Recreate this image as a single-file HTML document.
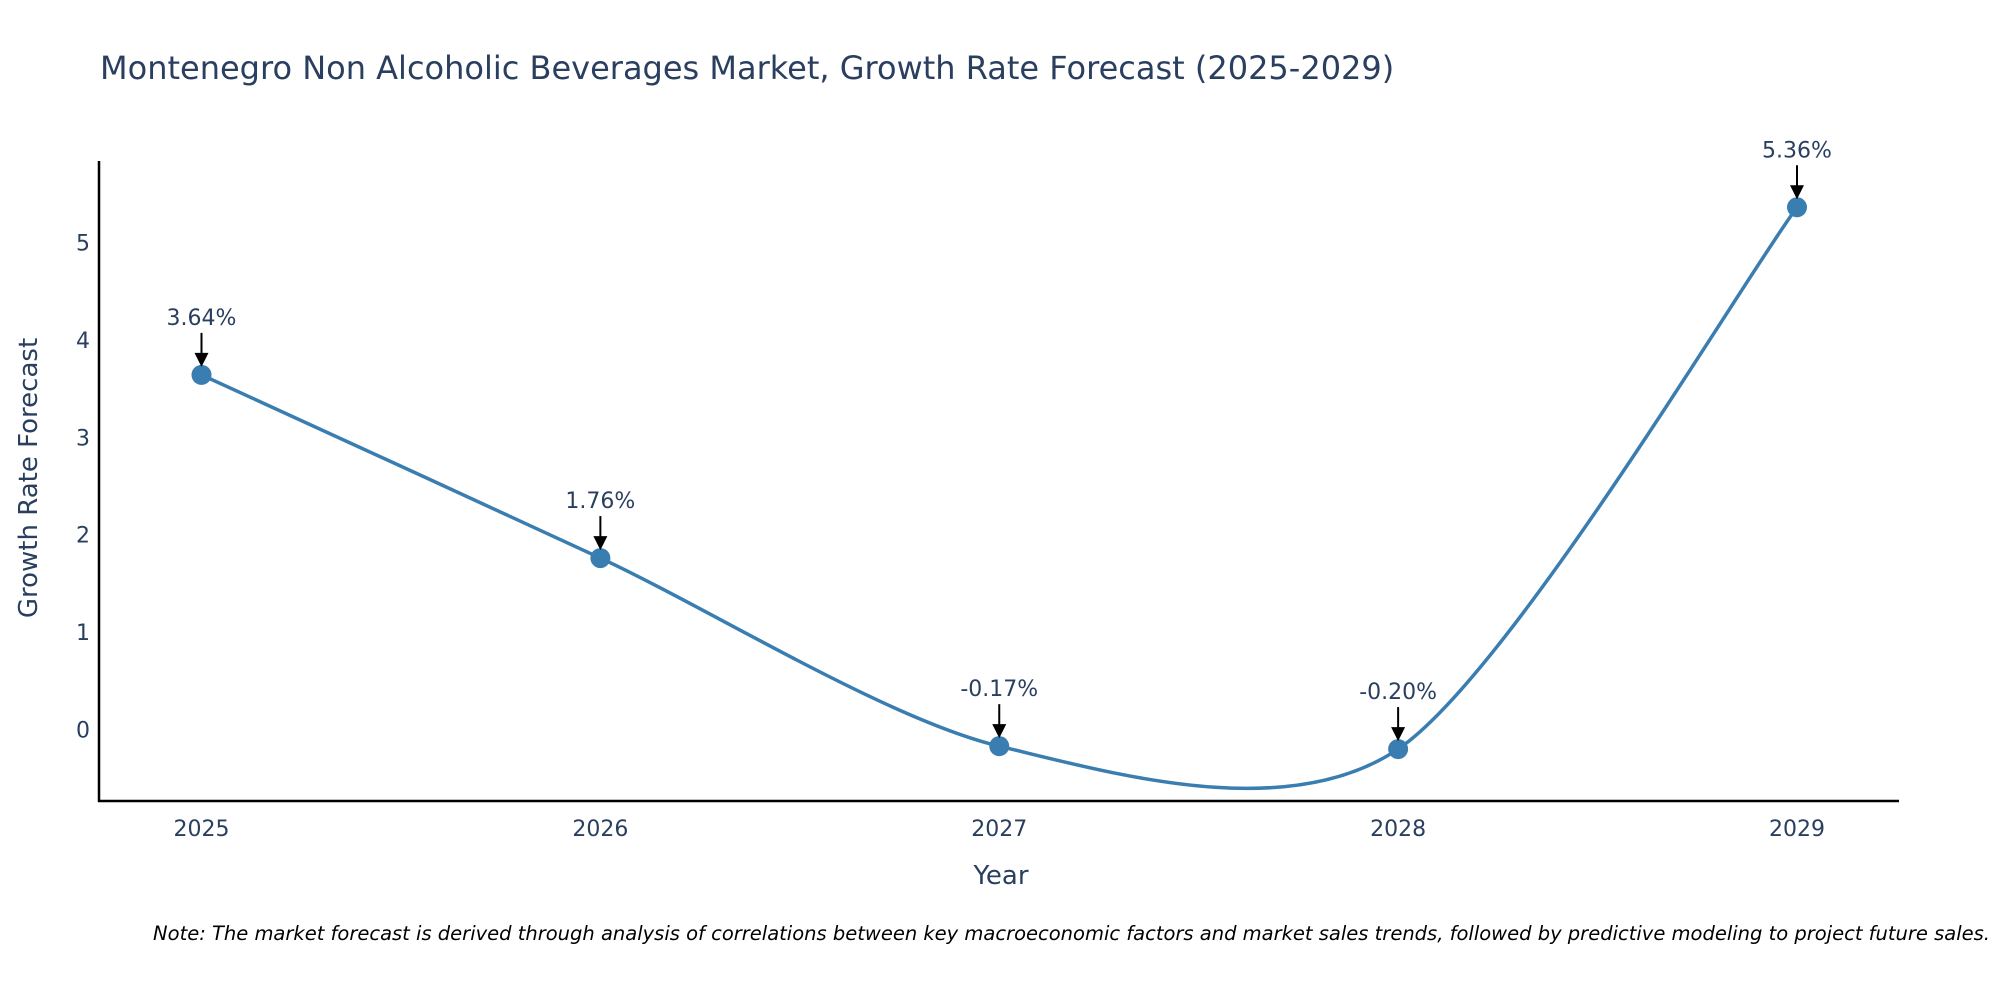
<!DOCTYPE html>
<html><head><meta charset="utf-8"><style>
body{margin:0;background:#fff;}
svg{display:block;font-family:"DejaVu Sans","Liberation Sans",sans-serif;}
</style></head><body>
<svg id="chart" width="2000" height="1000" viewBox="0 0 2000 1000">
<text x="100" y="79" font-size="32" fill="#2a3f5f">Montenegro Non Alcoholic Beverages Market, Growth Rate Forecast (2025-2029)</text>
<g id="yticks"></g>
<g id="xticks"></g>
<line x1="99" y1="161" x2="99" y2="802" stroke="#000" stroke-width="2.5"/>
<line x1="98" y1="801" x2="1899" y2="801" stroke="#000" stroke-width="2.5"/>
<g id="series"></g>
<g id="annots"></g>
<text transform="translate(37,478) rotate(-90)" text-anchor="middle" font-size="26" fill="#2a3f5f">Growth Rate Forecast</text>
<text x="1001" y="884" text-anchor="middle" font-size="26" fill="#2a3f5f">Year</text>
<text x="1990" y="940" text-anchor="end" font-size="19.5" font-style="italic" fill="#000">Note: The market forecast is derived through analysis of correlations between key macroeconomic factors and market sales trends, followed by predictive modeling to project future sales.</text>
</svg>
<script>
const years=["2025","2026","2027","2028","2029"];
const values=[3.64,1.76,-0.17,-0.20,5.36];
const labels=["3.64%","1.76%","-0.17%","-0.20%","5.36%"];
const yTicks=[0,1,2,3,4,5];
const NS="http://www.w3.org/2000/svg";
function xs(i){return 201.5+i*(1797-201.5)/(years.length-1);}
function ys(v){return 729.6-v*97.45;}
function mk(tag,attrs,parent){const e=document.createElementNS(NS,tag);for(const k in attrs)e.setAttribute(k,attrs[k]);parent.appendChild(e);return e;}
const yt=document.getElementById('yticks');
yTicks.forEach(t=>{const e=mk('text',{x:90,y:ys(t)+8,'text-anchor':'end','font-size':22,fill:'#2a3f5f'},yt);


e.textContent=t;});
const xt=document.getElementById('xticks');
years.forEach((y,i)=>{const e=mk('text',{x:xs(i),y:836,'text-anchor':'middle','font-size':22,fill:'#2a3f5f'},xt);


e.textContent=y;});
const pts=values.map((v,i)=>[xs(i),ys(v)]);
let d="M"+pts[0][0]+","+pts[0][1];
for(let i=0;i<pts.length-1;i++){
 const p0=pts[Math.max(0,i-1)],p1=pts[i],p2=pts[i+1],p3=pts[Math.min(pts.length-1,i+2)];
 const t=0.14;
 const c1=[p1[0]+(p2[0]-p0[0])*t,p1[1]+(p2[1]-p0[1])*t];
 const c2=[p2[0]-(p3[0]-p1[0])*t,p2[1]-(p3[1]-p1[1])*t];
 d+=" C"+c1+" "+c2+" "+p2;
}
const s=document.getElementById('series');
const path=mk('path',{d:d,fill:'none',stroke:'#3a7db0','stroke-width':3.5},s);


pts.forEach(p=>{const c=mk('circle',{cx:p[0],cy:p[1],r:10,fill:'#3a7db0'},s);

});
const a=document.getElementById('annots');
pts.forEach((p,i)=>{
 const l=mk('line',{x1:p[0],y1:p[1]-42,x2:p[0],y2:p[1]-20,stroke:'#000','stroke-width':2},a);
 
 
 const h=mk('polygon',{points:(p[0]-7)+","+(p[1]-22)+" "+(p[0]+7)+","+(p[1]-22)+" "+p[0]+","+(p[1]-8),fill:'#000'},a);
 
 
 const tx=mk('text',{x:p[0],y:p[1]-50,'text-anchor':'middle','font-size':22,fill:'#2a3f5f'},a);
 
 
 tx.textContent=labels[i];
});
</script>
</body></html>
